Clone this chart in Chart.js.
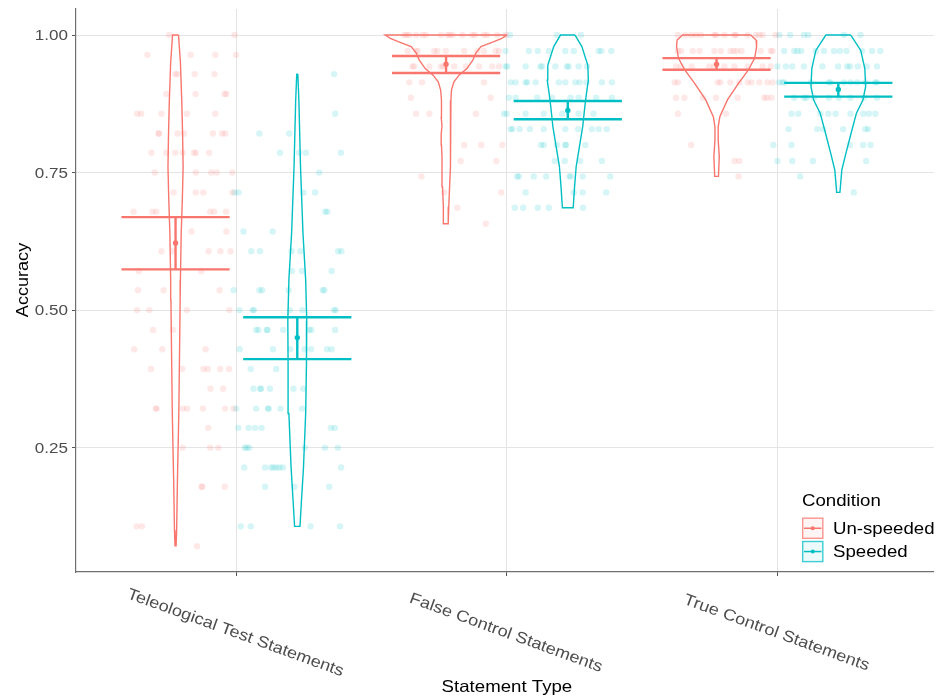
<!DOCTYPE html>
<html>
<head>
<meta charset="utf-8">
<script src="https://cdn.jsdelivr.net/npm/chart.js@4.4.1/dist/chart.umd.min.js"></script>
<style>
html,body{margin:0;padding:0;background:#ffffff;}
#wrap{width:937px;height:700px;position:relative;}
</style>
</head>
<body>
<div id="wrap"><canvas id="c" width="937" height="700"></canvas></div>
<script>
// ---------------- DATA ----------------
const categories = ['Teleological Test Statements', 'False Control Statements', 'True Control Statements'];
const conditions = ['Un-speeded', 'Speeded'];
const colors = ['#F8766D', '#00BFC4'];
const yTickValues = [0.25, 0.50, 0.75, 1.00];
const yTickLabels = ['0.25', '0.50', '0.75', '1.00'];
const xTitle = 'Statement Type';
const yTitle = 'Accuracy';
const legendTitle = 'Condition';

// means and error bar limits, per category
const unspeededMean = [0.622, 0.947, 0.947];
const unspeededLow  = [0.574, 0.931, 0.937];
const unspeededHigh = [0.669, 0.962, 0.958];
const speededMean   = [0.450, 0.863, 0.901];
const speededLow    = [0.411, 0.847, 0.888];
const speededHigh   = [0.487, 0.880, 0.913];

// violin outlines: [accuracy, half width (category units)]
const violinUnspeeded = [
  [[1.0,0.011],[0.95,0.018],[0.88,0.023],[0.82,0.026],[0.76,0.028],[0.70,0.025],[0.64,0.021],[0.555,0.018],[0.518,0.017],[0.433,0.015],[0.312,0.012],[0.191,0.007],[0.10,0.004],[0.0715,0.002]],
  [[1.0,0.225],[0.994,0.206],[0.988,0.177],[0.979,0.129],[0.967,0.110],[0.9545,0.099],[0.939,0.077],[0.927,0.048],[0.915,0.029],[0.9,0.020],[0.882,0.018],[0.865,0.016],[0.85,0.018],[0.835,0.015],[0.82,0.018],[0.8,0.017],[0.78,0.015],[0.76,0.015],[0.724,0.013],[0.688,0.010],[0.657,0.008]],
  [[1.0,0.126],[0.991,0.146],[0.979,0.148],[0.958,0.141],[0.936,0.117],[0.912,0.081],[0.882,0.040],[0.8515,0.012],[0.833,0.006],[0.809,0.006],[0.779,0.010],[0.743,0.007]]
];
const violinSpeeded = [
  [[0.929,0.002],[0.88,0.006],[0.76,0.012],[0.64,0.021],[0.555,0.031],[0.48,0.035],[0.404,0.034],[0.312,0.031],[0.215,0.023],[0.15,0.015],[0.107,0.010]],
  [[1.0,0.027],[0.979,0.052],[0.945,0.074],[0.918,0.076],[0.894,0.069],[0.870,0.063],[0.833,0.055],[0.797,0.043],[0.761,0.031],[0.724,0.025],[0.686,0.020]],
  [[1.0,0.046],[0.972,0.083],[0.939,0.098],[0.906,0.101],[0.882,0.091],[0.858,0.067],[0.821,0.047],[0.785,0.028],[0.755,0.013],[0.714,0.006]]
];

// individual participants: [accuracy, [jitter offsets from category centre]]
const pointsUnspeeded = [
  [
    [1.000,[-0.249,-0.007]],
    [0.964,[-0.329,-0.169,-0.078,-0.001]],
    [0.929,[-0.226,-0.218,-0.154,-0.081]],
    [0.893,[-0.259,-0.151,-0.044,-0.037]],
    [0.857,[-0.367,-0.352,-0.277,-0.183,-0.078]],
    [0.821,[-0.288,-0.286,-0.218,-0.194,-0.087,-0.053,-0.041]],
    [0.786,[-0.314,-0.259,-0.226,-0.198,-0.157,-0.150,-0.101]],
    [0.750,[-0.302,-0.150,-0.093,-0.073,-0.015]],
    [0.714,[-0.232,-0.150,-0.122,-0.015]],
    [0.679,[-0.380,-0.310,-0.296,-0.097,-0.082,-0.038]],
    [0.643,[-0.166,-0.037]],
    [0.607,[-0.277,-0.235,-0.103,-0.059,-0.022]],
    [0.571,[-0.361,-0.130]],
    [0.536,[-0.364,-0.269,-0.062]],
    [0.500,[-0.367,-0.322,-0.183,-0.026]],
    [0.464,[-0.308,-0.235]],
    [0.429,[-0.378,-0.274,-0.114]],
    [0.393,[-0.316,-0.200,-0.122,-0.106,-0.060,-0.027]],
    [0.357,[-0.096,-0.049]],
    [0.321,[-0.298,-0.295,-0.198,-0.182,-0.124,-0.042,-0.011]],
    [0.286,[-0.104]],
    [0.250,[-0.199,-0.097,-0.067]],
    [0.179,[-0.129,-0.126,-0.043]],
    [0.107,[-0.369,-0.349]],
    [0.071,[-0.146]]
  ],
  [
    [1.000,[-0.379,-0.371,-0.361,-0.336,-0.312,-0.300,-0.244,-0.220,-0.211,-0.201,-0.165,-0.128,-0.118,-0.085,-0.073,-0.036,-0.004]],
    [0.971,[-0.367,-0.336,-0.330,-0.269,-0.257,-0.226,-0.158,-0.109,-0.085,-0.042,-0.029]],
    [0.943,[-0.349,-0.343,-0.287,-0.244,-0.236,-0.195,-0.152,-0.103,-0.054,-0.029]],
    [0.914,[-0.361,-0.314,-0.085]],
    [0.886,[-0.355,-0.060]],
    [0.857,[-0.336,-0.287,-0.115]],
    [0.800,[-0.158,-0.095,-0.017]],
    [0.771,[-0.171,-0.039]],
    [0.743,[-0.316]],
    [0.714,[-0.232,-0.021]],
    [0.686,[-0.183]],
    [0.657,[-0.078]]
  ],
  [
    [1.000,[-0.368,-0.341,-0.319,-0.301,-0.283,-0.233,-0.227,-0.196,-0.159,-0.154,-0.110,-0.080,-0.067,-0.055,-0.007]],
    [0.971,[-0.368,-0.356,-0.313,-0.288,-0.233,-0.209,-0.174,-0.162,-0.150,-0.133,-0.062,-0.025,-0.018]],
    [0.943,[-0.375,-0.356,-0.317,-0.252,-0.233,-0.196,-0.159,-0.110,-0.055,-0.025]],
    [0.914,[-0.380,-0.368,-0.221,-0.211,-0.174,-0.141,-0.110,-0.096,-0.067,-0.037,-0.018]],
    [0.886,[-0.375,-0.344,-0.276,-0.227,-0.147,-0.049,-0.039,-0.022]],
    [0.857,[-0.368,-0.190]],
    [0.800,[-0.319]],
    [0.771,[-0.159,-0.141]],
    [0.743,[-0.144]]
  ]
];
const pointsSpeeded = [
  [
    [0.929,[0.361]],
    [0.857,[0.365]],
    [0.821,[0.085,0.195]],
    [0.786,[0.161,0.232,0.257,0.386]],
    [0.750,[0.306]],
    [0.714,[-0.007,0.008,0.248,0.291]],
    [0.679,[0.328,0.336]],
    [0.643,[0.026,0.134]],
    [0.607,[0.055,0.087,0.204,0.237,0.376,0.388]],
    [0.571,[0.205,0.242,0.352]],
    [0.536,[-0.010,0.085,0.095,0.193,0.319,0.325]],
    [0.500,[0.011,0.060,0.065,0.198,0.244,0.361,0.367]],
    [0.464,[0.073,0.081,0.112,0.115,0.173,0.269,0.277,0.365]],
    [0.429,[0.012,0.135,0.199,0.252,0.276,0.335,0.352]],
    [0.393,[0.053,0.147]],
    [0.357,[0.063,0.088,0.091,0.124,0.211,0.247]],
    [0.321,[-0.001,0.073,0.117,0.119,0.163,0.243]],
    [0.286,[0.007,0.045,0.069,0.093,0.349,0.364]],
    [0.250,[0.031,0.038,0.048,0.253,0.327,0.375]],
    [0.214,[0.029,0.106,0.128,0.137,0.148,0.159,0.172,0.387]],
    [0.179,[0.106,0.214,0.343]],
    [0.107,[0.016,0.053,0.274,0.383]]
  ],
  [
    [1.000,[0.011,0.185,0.274]],
    [0.971,[-0.005,0.081,0.114,0.155,0.216,0.247,0.339,0.349,0.386]],
    [0.943,[-0.005,0.001,0.069,0.124,0.130,0.179,0.222,0.228,0.265,0.296]],
    [0.914,[0.014,0.032,0.069,0.075,0.106,0.192,0.216,0.253,0.269,0.294,0.351,0.388]],
    [0.886,[0.007,0.032,0.112,0.167,0.235,0.265,0.330,0.388]],
    [0.857,[-0.011,-0.001,0.069,0.136,0.204,0.265,0.320]],
    [0.829,[0.014,0.020,0.047,0.085,0.136,0.216,0.263,0.314,0.339,0.369]],
    [0.800,[0.126,0.136,0.185,0.216,0.218,0.290]],
    [0.771,[0.177,0.214,0.271,0.351]],
    [0.743,[0.038,0.044,0.099,0.145,0.231,0.236,0.280,0.382]],
    [0.714,[0.069,0.247,0.280,0.367]],
    [0.686,[0.029,0.060,0.114,0.155,0.281]]
  ],
  [
    [1.000,[0.007,0.047,0.098,0.114,0.246,0.307]],
    [0.971,[0.025,0.062,0.074,0.088,0.141,0.172,0.209,0.231,0.255,0.313,0.350,0.380]],
    [0.943,[0.000,0.031,0.055,0.098,0.166,0.224,0.258,0.268,0.297,0.331,0.368]],
    [0.914,[0.006,0.018,0.025,0.123,0.190,0.196,0.246,0.270,0.295,0.325,0.362,0.368]],
    [0.886,[0.062,0.098,0.108,0.135,0.190,0.227,0.270,0.319,0.368]],
    [0.857,[0.052,0.077,0.159,0.188,0.215,0.270,0.317,0.338,0.362]],
    [0.829,[0.041,0.147,0.169,0.243,0.325,0.335]],
    [0.800,[-0.015,0.052,0.268,0.317,0.344]],
    [0.771,[0.000,0.055,0.131,0.328]],
    [0.743,[0.084]],
    [0.714,[0.282]]
  ]
];

// ---------------- BUILD DATASETS ----------------
const DODGE = 0.225;      // offset of each condition from the category centre
const BAR_HALF = 0.2;     // half width of the error bar caps
const FONT = '"Liberation Sans", Arial, Helvetica, sans-serif';

function rgba(hex, a) {
  const n = parseInt(hex.slice(1), 16);
  return `rgba(${(n >> 16) & 255},${(n >> 8) & 255},${n & 255},${a})`;
}

const groups = [
  { pts: pointsUnspeeded, vio: violinUnspeeded, mean: unspeededMean, lo: unspeededLow, hi: unspeededHigh, sign: -1, color: colors[0] },
  { pts: pointsSpeeded,   vio: violinSpeeded,   mean: speededMean,   lo: speededLow,   hi: speededHigh,   sign: 1,  color: colors[1] }
];

const datasets = [];
groups.forEach(g => {
  // jittered points
  const pdata = [];
  g.pts.forEach((rows, ci) => rows.forEach(([v, offs]) => offs.forEach(o => pdata.push({ x: ci + 1 + o, y: v }))));
  datasets.push({ data: pdata, showLine: false, pointRadius: 3.2, pointHoverRadius: 3.2, borderWidth: 0,
    pointBorderWidth: 0, backgroundColor: rgba(g.color, 0.16), order: 5 });

  g.vio.forEach((prof, ci) => {
    const c = ci + 1 + g.sign * DODGE;
    const right = prof.map(([v, w]) => ({ x: c + w, y: v }));
    const left = prof.slice().reverse().map(([v, w]) => ({ x: c - w, y: v }));
    const poly = right.concat(left, [right[0]]);
    datasets.push({ data: poly, showLine: true, pointRadius: 0, pointHoverRadius: 0, borderColor: g.color,
      borderWidth: 1.4, fill: false, tension: 0, order: 4 });

    // error bar
    const segs = [
      [{ x: c - BAR_HALF, y: g.hi[ci] }, { x: c + BAR_HALF, y: g.hi[ci] }],
      [{ x: c - BAR_HALF, y: g.lo[ci] }, { x: c + BAR_HALF, y: g.lo[ci] }],
      [{ x: c, y: g.lo[ci] }, { x: c, y: g.hi[ci] }]
    ];
    segs.forEach(s => datasets.push({ data: s, showLine: true, pointRadius: 0, pointHoverRadius: 0,
      borderColor: g.color, borderWidth: 2.4, fill: false, order: 2 }));
    datasets.push({ data: [{ x: c, y: g.mean[ci] }], showLine: false, pointRadius: 2.7, pointHoverRadius: 2.7,
      backgroundColor: g.color, pointBorderWidth: 0, borderWidth: 0, order: 1 });
  });
});

// ---------------- TEXT / LEGEND ----------------
function txt(ctx, s, x, y, o) {
  ctx.save();
  ctx.translate(x, y);
  ctx.rotate(o.rot || 0);
  ctx.scale(o.sx || 1.13, 1);
  ctx.font = `${o.size}px ${FONT}`;
  ctx.fillStyle = o.color || '#000';
  ctx.textAlign = o.align || 'left';
  ctx.textBaseline = o.base || 'alphabetic';
  ctx.fillText(s, 0, 0);
  ctx.restore();
}

const textPlugin = {
  id: 'ggText',
  afterDraw(chart) {
    const ctx = chart.ctx;
    const xs = chart.scales.x, ys = chart.scales.y, ca = chart.chartArea;
    yTickValues.forEach((v, i) => {
      txt(ctx, yTickLabels[i], ca.left - 8, ys.getPixelForValue(v) + 1, { size: 15.5, color: '#4D4D4D', align: 'right', base: 'middle', sx: 1.1 });
    });
    categories.forEach((c, i) => {
      txt(ctx, c, xs.getPixelForValue(i + 1) - 1, ca.bottom + 61, { size: 16, color: '#4D4D4D', align: 'center', base: 'middle', rot: 20 * Math.PI / 180 });
    });
    txt(ctx, xTitle, (ca.left + ca.right) / 2 + 2, 692, { size: 16.5, align: 'center' });
    txt(ctx, yTitle, 28, 280, { size: 16, align: 'center', rot: -Math.PI / 2 });

    // legend
    const lx = 802;
    txt(ctx, legendTitle, lx, 506, { size: 16.5 });
    conditions.forEach((name, i) => {
      const top = 517.5 + i * 23.3, size = 21.5, col = colors[i];
      ctx.save();
      ctx.fillStyle = rgba(col, 0.07);
      ctx.fillRect(lx, top, size, size);
      ctx.strokeStyle = rgba(col, 0.75);
      ctx.lineWidth = 1.4;
      ctx.strokeRect(lx + 0.7, top + 0.7, size - 1.4, size - 1.4);
      ctx.strokeStyle = col;
      ctx.lineWidth = 1.5;
      ctx.beginPath();
      ctx.moveTo(lx + 2, top + size / 2);
      ctx.lineTo(lx + size - 2, top + size / 2);
      ctx.stroke();
      ctx.fillStyle = col;
      ctx.beginPath();
      ctx.arc(lx + size / 2, top + size / 2, 2, 0, Math.PI * 2);
      ctx.fill();
      ctx.restore();
      txt(ctx, name, 833, top + size / 2 + 1, { size: 16.5, base: 'middle' });
    });
  }
};

new Chart(document.getElementById('c'), {
  type: 'scatter',
  data: { datasets },
  options: {
    responsive: false,
    animation: false,
    devicePixelRatio: 1,
    layout: { padding: { left: 76, top: 9, right: 0, bottom: 128 } },
    plugins: { legend: { display: false }, tooltip: { enabled: false } },
    events: [],
    scales: {
      x: {
        type: 'linear', min: 0.407, max: 3.578,
        afterBuildTicks: s => { s.ticks = [1, 2, 3].map(v => ({ value: v })); },
        afterFit: s => { s.height = 0; },
        ticks: { display: false },
        grid: { color: '#E4E4E4', lineWidth: 1, drawTicks: true, tickLength: 4, tickColor: '#555' },
        border: { display: true, color: '#707070', width: 1.2 }
      },
      y: {
        type: 'linear', min: 0.024, max: 1.0473,
        afterBuildTicks: s => { s.ticks = yTickValues.map(v => ({ value: v })); },
        afterFit: s => { s.width = 0; },
        ticks: { display: false },
        grid: { color: '#E4E4E4', lineWidth: 1, drawTicks: true, tickLength: 4, tickColor: '#555' },
        border: { display: true, color: '#707070', width: 1.2 }
      }
    }
  },
  plugins: [textPlugin]
});
</script>
</body>
</html>
